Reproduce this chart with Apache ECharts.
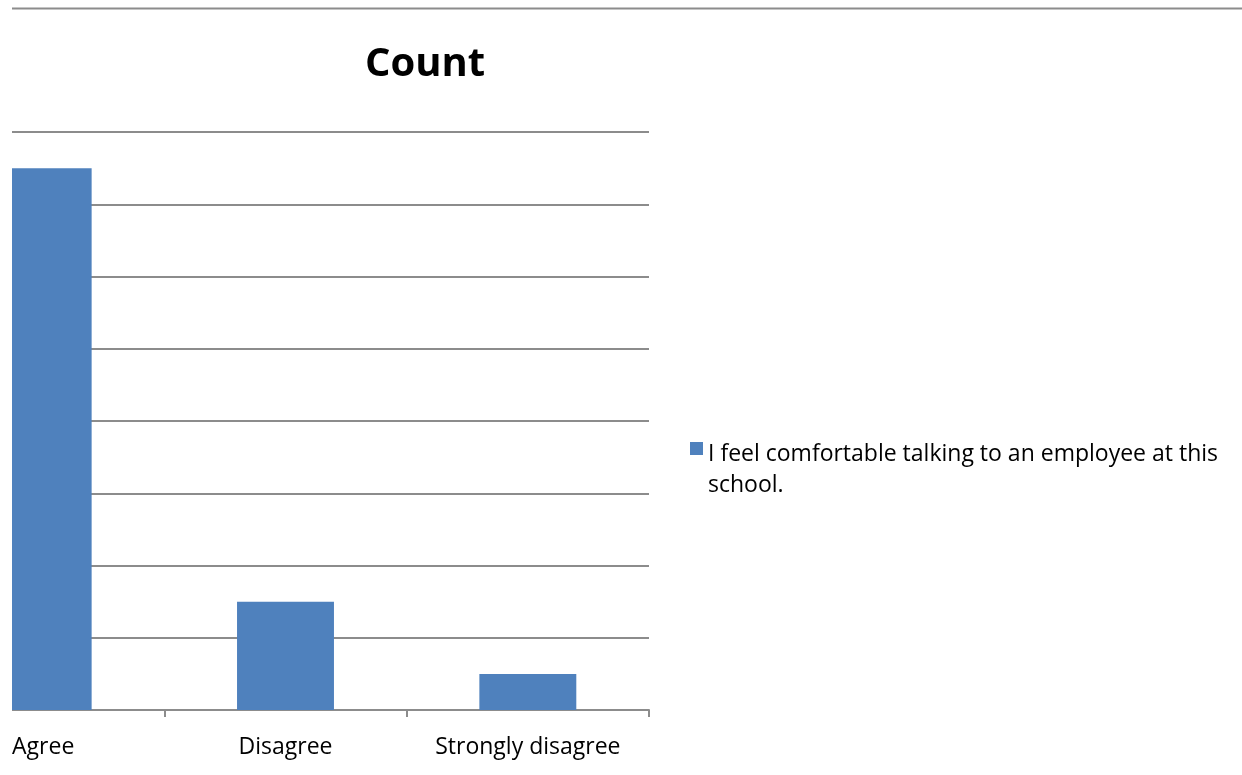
<!DOCTYPE html>
<html>
<head>
<meta charset="utf-8">
<script src="https://cdn.jsdelivr.net/npm/echarts@6/dist/echarts.min.js"></script>
<style>
  html, body { margin: 0; padding: 0; background: #fff; }
  #main { width: 1242px; height: 775px; }
</style>
</head>
<body>
<div id="main"></div>
<script>
var categories = ['Agree', 'Disagree', 'Strongly disagree'];
var counts = [15, 3, 1];
var seriesName = 'I feel comfortable talking to an employee at this school.';

var chart = echarts.init(document.getElementById('main'));
var gray = '#8c8c8c';
var font = '"Open Sans", "Noto Sans", sans-serif';

var option = {
    animation: false,
    title: {
        text: 'Count',
        left: 420,
        top: 40,
        textAlign: 'center',
        textStyle: { fontFamily: font, fontSize: 40, fontWeight: 'bold', color: '#000' }
    },
    legend: {
        left: 685,
        top: 434,
        itemWidth: 13,
        itemHeight: 56,
        itemGap: 6,
        // square sits at the top of the item box so it lines up with the first text line
        icon: 'path://M0,0H13V13H0Z M0,56H0.001Z',
        itemStyle: { color: '#4F81BD', borderWidth: 0 },
        data: [seriesName],
        textStyle: {
            fontFamily: font, fontSize: 23, color: '#000',
            width: 530, overflow: 'break', lineHeight: 31
        }
    },
    grid: {
        left: -78,
        right: 593,
        top: 132,
        bottom: 65,
        outerBoundsMode: 'none'
    },
    xAxis: {
        type: 'category',
        data: categories,
        axisLine: { lineStyle: { color: gray, width: 2 } },
        axisTick: { show: true, length: 7, lineStyle: { color: gray, width: 2 } },
        axisLabel: { fontFamily: font, fontSize: 23, color: '#000', margin: 26 }
    },
    yAxis: {
        type: 'value',
        min: 0,
        max: 16,
        interval: 2,
        axisLabel: { show: false },
        axisLine: { show: false },
        axisTick: { show: false },
        splitLine: { lineStyle: { color: gray, width: 2 } }
    },
    series: [{
        name: seriesName,
        type: 'bar',
        data: counts,
        barWidth: '40%',
        itemStyle: { color: '#4F81BD' }
    }],
    graphic: [
        { type: 'rect', left: 0, top: 0, shape: { width: 12, height: 775 }, style: { fill: '#fff' }, z: 100 },
        { type: 'line', shape: { x1: 12, y1: 8.5, x2: 1242, y2: 8.5 }, style: { stroke: gray, lineWidth: 2 }, z: 100 }
    ]
};

chart.setOption(option);
</script>
</body>
</html>
